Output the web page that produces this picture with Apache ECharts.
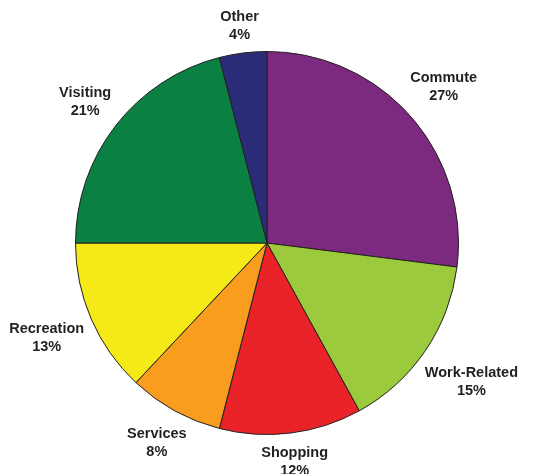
<!DOCTYPE html>
<html>
<head>
<meta charset="utf-8">
<script src="https://cdn.jsdelivr.net/npm/echarts@6/dist/echarts.min.js"></script>
<style>
  html, body { margin: 0; padding: 0; background: #fff; }
  #chart { width: 543px; height: 474px; }
</style>
</head>
<body>
<div id="chart"></div>
<script>
// Trip purposes, share of trips (%)
var categories = ['Commute', 'Work-Related', 'Shopping', 'Services', 'Recreation', 'Visiting', 'Other'];
var shares = [27, 15, 12, 8, 13, 21, 4];
var colors = ['#7B2A7F', '#9BCB3C', '#EA2328', '#F89D1E', '#F5EA17', '#0A8043', '#2A2C77'];

var CX = 267, CY = 243, R = 191.5, GAP = 7;
var total = shares.reduce(function (a, b) { return a + b; }, 0);

// mid angle of each slice, measured clockwise from 12 o'clock
function midAngle(i) {
  var before = 0;
  for (var k = 0; k < i; k++) before += shares[k];
  return (before + shares[i] / 2) / total * 2 * Math.PI;
}

var chart = echarts.init(document.getElementById('chart'), null, { renderer: 'canvas' });
chart.setOption({
  animation: false,
  backgroundColor: '#ffffff',
  series: [{
    type: 'pie',
    center: [CX, CY],
    radius: R,
    startAngle: 90,
    clockwise: true,
    avoidLabelOverlap: false,
    data: categories.map(function (name, i) {
      return { name: name, value: shares[i], itemStyle: { color: colors[i] } };
    }),
    itemStyle: { borderColor: '#231F20', borderWidth: 1 },
    label: {
      show: true,
      position: 'outside',
      formatter: function (p) { return p.name + '\n' + Math.round(p.percent) + '%'; },
      fontFamily: 'Liberation Sans, Arial, sans-serif',
      fontWeight: 'bold',
      fontSize: 14.5,
      lineHeight: 18,
      color: '#231F20',
      align: 'center'
    },
    labelLine: { show: false },
    // place each label just outside the rim, centred on its slice's mid angle
    labelLayout: function (params) {
      var a = midAngle(params.dataIndex);
      var s = Math.sin(a), c = Math.cos(a);
      var w = params.labelRect.width, h = params.labelRect.height;
      var d = R + GAP + Math.abs(s) * w / 2 + Math.abs(c) * h / 2;
      return { x: CX + d * s, y: CY - d * c, align: 'center', verticalAlign: 'middle' };
    },
    emphasis: { disabled: true }
  }]
});
</script>
</body>
</html>
